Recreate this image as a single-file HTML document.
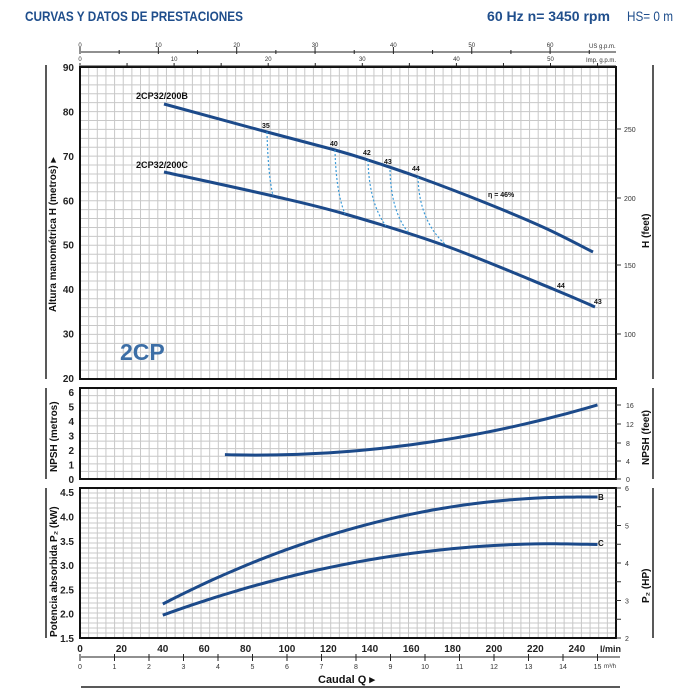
<!DOCTYPE html>
<html><head><meta charset="utf-8"><style>
html,body{margin:0;padding:0;background:#fff;width:700px;height:700px;overflow:hidden}
svg{display:block}
text{font-family:"Liberation Sans",sans-serif}
</style></head><body>
<svg id="s" width="700" height="700" xmlns="http://www.w3.org/2000/svg">
<text x="25" y="21" font-size="14" font-weight="bold" fill="#1f4e8c" textLength="218" lengthAdjust="spacingAndGlyphs">CURVAS Y DATOS DE PRESTACIONES</text>
<text x="487" y="21" font-size="14" font-weight="bold" fill="#1f4e8c" textLength="123" lengthAdjust="spacingAndGlyphs">60 Hz   n= 3450 rpm</text>
<text x="627" y="21" font-size="14" fill="#1f4e8c" textLength="46" lengthAdjust="spacingAndGlyphs">HS= 0 m</text>
<g id="g"></g>
<text x="120" y="360" font-size="23" font-weight="bold" fill="#3c6ea6">2CP</text>
</svg>
<script>
const NS="http://www.w3.org/2000/svg",G=document.getElementById('g');
function el(t,a,txt){const e=document.createElementNS(NS,t);for(const k in a)e.setAttribute(k,a[k]);if(txt!==undefined)e.textContent=txt;G.appendChild(e);return e;}
const L=80,R=616;const X=q=>80+2.07*q;
function grid(top,bot,nrows){
 const nc=62;
 for(let i=1;i<nc;i++){const x=L+(R-L)*i/nc;el('line',{x1:x,x2:x,y1:top,y2:bot,stroke:'#c8c8c8','stroke-width':1});}
 for(let i=1;i<nrows;i++){const y=top+(bot-top)*i/nrows;el('line',{x1:L,x2:R,y1:y,y2:y,stroke:'#c8c8c8','stroke-width':1});}
 el('rect',{x:L,y:top,width:R-L,height:bot-top,fill:'none',stroke:'#111','stroke-width':2});
}
grid(67,379,35);grid(388,479,12);grid(488,638,30);
[[65,379],[388,479],[488,638]].forEach(a=>{el('line',{x1:46,x2:46,y1:a[0],y2:a[1],stroke:'#222','stroke-width':1.5});el('line',{x1:653,x2:653,y1:a[0],y2:a[1],stroke:'#222','stroke-width':1.5});});
for(let h=20;h<=90;h+=10){const y=67+(90-h)*4.443;el('text',{x:74,y:y+4,'font-size':10,'font-weight':'bold','text-anchor':'end',fill:'#222'},h);}
[[250,129],[200,198],[150,265],[100,334]].forEach(a=>{el('line',{x1:616,x2:621,y1:a[1],y2:a[1],stroke:'#333'});el('text',{x:624,y:a[1]+3,'font-size':7,fill:'#333'},a[0]);});
el('text',{x:0,y:0,'font-size':10,'font-weight':'bold',fill:'#111',transform:'translate(56,312) rotate(-90)'},'Altura manométrica H  (metros)  ▸');
el('text',{x:0,y:0,'font-size':10,'font-weight':'bold',fill:'#111',transform:'translate(649,248) rotate(-90)'},'H  (feet)');
for(let v=0;v<=6;v++){el('text',{x:74,y:479-v*14.5+4,'font-size':10,'font-weight':'bold','text-anchor':'end',fill:'#222'},v);}
[[0,479],[4,461],[8,443],[12,424],[16,405]].forEach(a=>{el('line',{x1:616,x2:621,y1:a[1],y2:a[1],stroke:'#333'});el('text',{x:626,y:a[1]+3,'font-size':7,fill:'#333'},a[0]);});
el('text',{x:0,y:0,'font-size':10,'font-weight':'bold',fill:'#111',transform:'translate(57,472) rotate(-90)'},'NPSH  (metros)');
el('text',{x:0,y:0,'font-size':10,'font-weight':'bold',fill:'#111',transform:'translate(649,465) rotate(-90)'},'NPSH  (feet)');
for(let i=0;i<=6;i++){const p=1.5+i*0.5;el('text',{x:74,y:638-i*24.3+4,'font-size':10,'font-weight':'bold','text-anchor':'end',fill:'#222'},p.toFixed(1));}
for(let h=2;h<=6;h+=0.5){const y=638-(h-2)*37.5;el('line',{x1:616,x2:621,y1:y,y2:y,stroke:'#333'});if(h%1===0)el('text',{x:625,y:y+3,'font-size':7,fill:'#333'},h);}
el('text',{x:0,y:0,'font-size':10,'font-weight':'bold',fill:'#111',transform:'translate(57,637) rotate(-90)'},'Potencia absorbida  P₂  (kW)');
el('text',{x:0,y:0,'font-size':10,'font-weight':'bold',fill:'#111',transform:'translate(649,603) rotate(-90)'},'P₂  (HP)');
for(let q=0;q<=240;q+=20)el('text',{x:X(q),y:652,'font-size':10,'font-weight':'bold','text-anchor':'middle',fill:'#222'},q);
el('text',{x:600,y:652,'font-size':9,'font-weight':'bold',fill:'#222'},'l/min');
el('line',{x1:81,x2:620,y1:657,y2:657,stroke:'#222','stroke-width':1});
for(let m=0;m<=15;m++){const x=X(m*16.667);el('line',{x1:x,x2:x,y1:654,y2:661,stroke:'#222'});el('text',{x:x,y:669,'font-size':7,'text-anchor':'middle',fill:'#333'},m);}
el('text',{x:604,y:668,'font-size':6,fill:'#333'},'m³/h');
el('text',{x:318,y:683,'font-size':11,'font-weight':'bold',fill:'#111'},'Caudal  Q  ▸');
el('line',{x1:81,x2:620,y1:687,y2:687,stroke:'#222','stroke-width':1.5});
el('line',{x1:81,x2:616,y1:52,y2:52,stroke:'#222'});el('line',{x1:81,x2:616,y1:66,y2:66,stroke:'#222'});
for(let g=0;g<=65;g+=5){const x=X(g*3.785);el('line',{x1:x,x2:x,y1:g%10?50:47,y2:54,stroke:'#222'});if(g%10===0)el('text',{x:x,y:47,'font-size':6,'text-anchor':'middle',fill:'#333'},g);}
for(let g=0;g<=55;g+=5){const x=X(g*4.546);el('line',{x1:x,x2:x,y1:63,y2:66,stroke:'#222'});if(g%10===0)el('text',{x:x,y:61,'font-size':6,'text-anchor':'middle',fill:'#333'},g);}
el('text',{x:589,y:48,'font-size':6,fill:'#333'},'US g.p.m.');
el('text',{x:586,y:62,'font-size':6,fill:'#333'},'Imp. g.p.m.');
function cr(p){let d='M'+p[0][0]+','+p[0][1];for(let i=0;i<p.length-1;i++){const p0=p[i-1]||p[i],p1=p[i],p2=p[i+1],p3=p[i+2]||p2;d+=' C'+(p1[0]+(p2[0]-p0[0])/6)+','+(p1[1]+(p2[1]-p0[1])/6)+' '+(p2[0]-(p3[0]-p1[0])/6)+','+(p2[1]-(p3[1]-p1[1])/6)+' '+p2[0]+','+p2[1];}return d;}
const C='#1c4a8a',W=3;
el('path',{d:cr([[164,104],[267,132],[335,150],[368,160],[418,177],[486,203],[545,228],[593,252]]),fill:'none',stroke:C,'stroke-width':W});
el('path',{d:cr([[164,172],[273,196],[345,214],[446,246],[553,289],[595,307]]),fill:'none',stroke:C,'stroke-width':W});
[[267,132,273,196],[335,150,345,214],[368,160,386,226],[390,170,408,232],[418,177,446,245]].forEach(a=>{el('path',{d:`M${a[0]},${a[1]} Q${a[0]+1},${(a[1]+a[3])/2+10} ${a[2]},${a[3]}`,fill:'none',stroke:'#3a9ad8','stroke-width':1.2,'stroke-dasharray':'2,2'});});
[['35',262,128],['40',330,146],['42',363,155],['43',384,164],['44',412,171],['44',557,288],['43',594,304]].forEach(a=>el('text',{x:a[1],y:a[2],'font-size':7,'font-weight':'bold',fill:'#111'},a[0]));
el('text',{x:488,y:197,'font-size':7,'font-weight':'bold',fill:'#111'},'η = 46%');
el('text',{x:136,y:99,'font-size':9,'font-weight':'bold',fill:'#111',textLength:'52',lengthAdjust:'spacingAndGlyphs'},'2CP32/200B');
el('text',{x:136,y:168,'font-size':9,'font-weight':'bold',fill:'#111',textLength:'52',lengthAdjust:'spacingAndGlyphs'},'2CP32/200C');
let pn=[];for(let q=70;q<=250;q+=5){const v=1.65+1.27e-4*(q-85)*(q-85);pn.push([X(q),479-v*14.5]);}
el('path',{d:cr(pn),fill:'none',stroke:C,'stroke-width':W});
let pb=[],pc=[];for(let q=40;q<=250;q+=5){let t=Math.max(0,1-(q-40)/200);pb.push([X(q),638-(4.4-2.2*t*t-1.5)*48.6]);let u=Math.max(0,1-(q-40)/190);let cv=3.44-1.47*u*u-(q>230?(q-230)*0.0008:0);pc.push([X(q),638-(cv-1.5)*48.6]);}
el('path',{d:cr(pb),fill:'none',stroke:C,'stroke-width':W});
el('path',{d:cr(pc),fill:'none',stroke:C,'stroke-width':W});
el('text',{x:598,y:500,'font-size':8,'font-weight':'bold',fill:'#111'},'B');
el('text',{x:598,y:546,'font-size':8,'font-weight':'bold',fill:'#111'},'C');
</script>
</body></html>
